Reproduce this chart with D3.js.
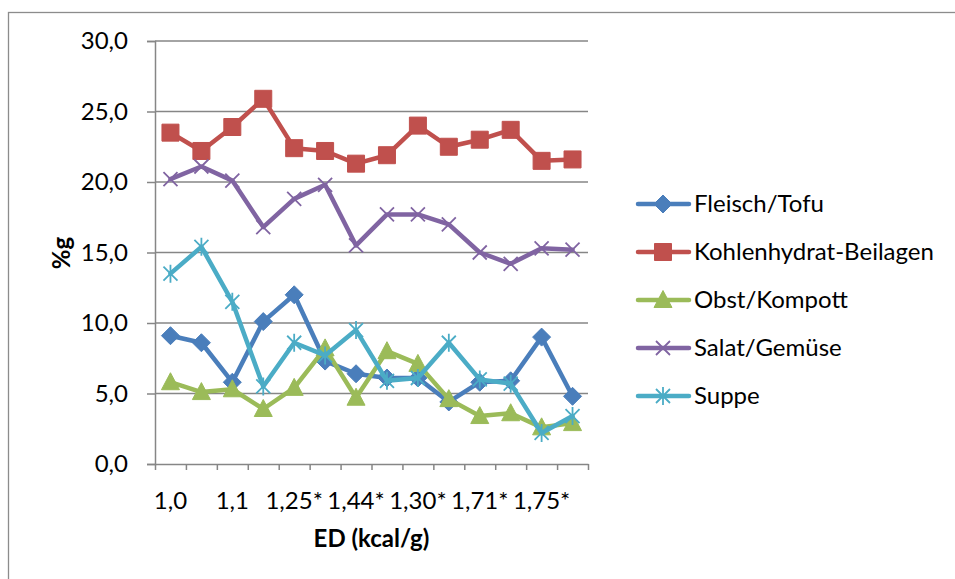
<!DOCTYPE html>
<html>
<head>
<meta charset="utf-8">
<script src="https://cdn.jsdelivr.net/npm/d3@7"></script>
<style>
  html, body { margin: 0; padding: 0; background: #fff; }
  svg { display: block; font-family: Lato, "Open Sans", sans-serif; }
</style>
</head>
<body>
<svg id="chart" width="955" height="579"></svg>
<script>
// ED categories; only every other label is printed on the axis, the others cannot be read
var categories = ["1,0", null, "1,1", null, "1,25*", null, "1,44*", null, "1,30*", null, "1,71*", null, "1,75*", null];

var seriesNames = ["Fleisch/Tofu", "Kohlenhydrat-Beilagen", "Obst/Kompott", "Salat/Gemüse", "Suppe"];
var fleisch = [9.1, 8.6, 5.8, 10.1, 12.0, 7.3, 6.4, 6.1, 6.1, 4.4, 5.8, 5.9, 9.0, 4.8];
var kohlenhydrat = [23.5, 22.2, 23.9, 25.9, 22.4, 22.2, 21.3, 21.9, 24.0, 22.5, 23.0, 23.7, 21.5, 21.6];
var obst = [5.8, 5.1, 5.3, 3.9, 5.4, 8.2, 4.7, 8.0, 7.1, 4.6, 3.4, 3.6, 2.6, 2.9];
var salat = [20.2, 21.1, 20.1, 16.8, 18.8, 19.8, 15.5, 17.7, 17.7, 17.0, 15.0, 14.2, 15.3, 15.2];
var suppe = [13.5, 15.4, 11.5, 5.5, 8.6, 7.7, 9.5, 5.9, 6.1, 8.6, 6.0, 5.7, 2.2, 3.4];
var yTicks = [0, 5, 10, 15, 20, 25, 30];

var seriesValues = [fleisch, kohlenhydrat, obst, salat, suppe];
var seriesColors = ["#4a7ebb", "#c0504d", "#9bbb59", "#8064a2", "#4bacc6"];
var seriesMarkers = ["diamond", "square", "triangle", "x", "star"];

var svg = d3.select("#chart");
var margin = { top: 41, left: 155, bottom: 115, right: 367 };
var width = 955, height = 579;

var locale = d3.formatLocale({ decimal: ",", thousands: ".", grouping: [3], currency: ["", "€"] });
var fmt = locale.format(".1f");

var x = d3.scaleBand()
  .domain(d3.range(categories.length))
  .range([margin.left, width - margin.right]);
var xEdge = d3.scaleLinear()
  .domain([0, categories.length])
  .range([margin.left, width - margin.right]);
var y = d3.scaleLinear()
  .domain([0, 30])
  .range([height - margin.bottom, margin.top]);

// outer chart border
svg.append("rect")
  .attr("x", 8.5).attr("y", 12.5)
  .attr("width", 1000).attr("height", 1000)
  .style("fill", "none").style("stroke", "#8c8c8c").style("stroke-width", 1.3);

// gridlines
svg.append("g").selectAll("line")
  .data(yTicks.filter(function (d) { return d > 0; }))
  .enter().append("line")
  .attr("x1", margin.left).attr("x2", width - margin.right)
  .attr("y1", function (d) { return y(d); })
  .attr("y2", function (d) { return y(d); })
  .style("stroke", "#868686").style("stroke-width", 1.5);

// y axis
var yAxis = svg.append("g")
  .attr("transform", "translate(" + margin.left + ",0)")
  .call(d3.axisLeft(y).tickValues(yTicks).tickSize(8).tickPadding(19).tickFormat(fmt));
yAxis.select(".domain").style("stroke", "#868686").style("stroke-width", 1.5);
yAxis.selectAll(".tick line").style("stroke", "#868686").style("stroke-width", 1.5);
yAxis.selectAll("text").style("font-size", "24px").style("fill", "#000")
  .style("font-family", "Lato, sans-serif");

// x axis: ticks at category edges
var xAxis = svg.append("g")
  .attr("transform", "translate(0," + y(0) + ")")
  .call(d3.axisBottom(xEdge).tickValues(d3.range(categories.length + 1)).tickSize(6).tickSizeOuter(0).tickFormat(""));
xAxis.select(".domain").style("stroke", "#868686").style("stroke-width", 1.5);
xAxis.selectAll(".tick line").style("stroke", "#868686").style("stroke-width", 1.5);

svg.append("g").selectAll("text")
  .data(categories)
  .enter().append("text")
  .attr("x", function (d, i) { return x(i) + x.bandwidth() / 2; })
  .attr("y", y(0) + 45)
  .style("text-anchor", "middle")
  .style("font-size", "24px")
  .text(function (d) { return d || ""; });

// axis titles
svg.append("text")
  .attr("x", (margin.left + width - margin.right) / 2)
  .attr("y", 547)
  .style("text-anchor", "middle")
  .style("font-size", "24px").style("font-weight", "bold")
  .text("ED (kcal/g)");
svg.append("text")
  .attr("transform", "translate(70,253) rotate(-90)")
  .style("text-anchor", "middle")
  .style("font-size", "24px").style("font-weight", "bold")
  .text("%g");

function markerPath(type) {
  switch (type) {
    case "diamond": return "M0,-9L9,0L0,9L-9,0Z";
    case "square": return "M-8.5,-8.5H8.5V8.5H-8.5Z";
    case "triangle": return "M0,-9.5L9,7.5L-9,7.5Z";
    case "x": return "M-7,-7L7,7M-7,7L7,-7";
    case "star": return "M-7,-7L7,7M-7,7L7,-7M0,-9V9";
  }
}

function drawMarker(g, type, color, cx, cy) {
  var p = g.append("path")
    .attr("d", markerPath(type))
    .attr("transform", "translate(" + cx + "," + cy + ")");
  if (type == "x" || type == "star") {
    p.style("fill", "none").style("stroke", color).style("stroke-width", 1.8);
  } else {
    p.style("fill", color).style("stroke", color).style("stroke-width", 1);
  }
}

var line = d3.line()
  .x(function (d, i) { return x(i) + x.bandwidth() / 2; })
  .y(function (d) { return y(d); });

var seriesG = svg.append("g");
for (let s = 0; s < seriesValues.length; s++) {
  let g = seriesG.append("g");
  g.append("path")
    .datum(seriesValues[s])
    .attr("d", line)
    .style("fill", "none")
    .style("stroke", seriesColors[s])
    .style("stroke-width", 4.5)
    .style("stroke-linejoin", "round")
    .style("stroke-linecap", "round");
  seriesValues[s].forEach(function (v, i) {
    drawMarker(g, seriesMarkers[s], seriesColors[s], x(i) + x.bandwidth() / 2, y(v));
  });
}

// legend
var legend = svg.append("g");
var legendTop = 204, legendStep = 48;
for (let s = 0; s < seriesNames.length; s++) {
  let ly = legendTop + s * legendStep;
  legend.append("line")
    .attr("x1", 638).attr("x2", 689)
    .attr("y1", ly).attr("y2", ly)
    .style("stroke", seriesColors[s]).style("stroke-width", 4.5)
    .style("stroke-linecap", "round");
  drawMarker(legend, seriesMarkers[s], seriesColors[s], 663, ly);
  legend.append("text")
    .attr("x", 694).attr("y", ly)
    .attr("dy", "0.35em")
    .style("font-size", "24px")
    .text(seriesNames[s]);
}
</script>
</body>
</html>
